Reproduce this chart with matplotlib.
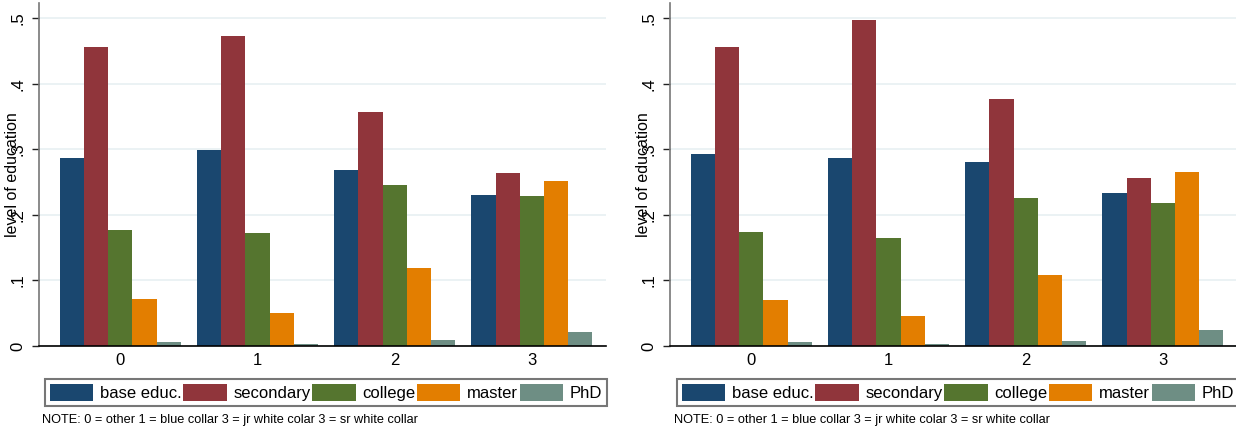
import matplotlib.pyplot as plt
import numpy as np
from matplotlib.ticker import FuncFormatter

plt.rcParams['font.family'] = ['Liberation Sans', 'DejaVu Sans']

# categories (occupation groups) and series
groups = [0, 1, 2, 3]
series = ['base educ.', 'secondary', 'college', 'master', 'PhD']
colors = ['#1a476f', '#90353b', '#55752f', '#e37e00', '#6e8e84']

# left panel
left_base = [0.287, 0.299, 0.268, 0.230]
left_secondary = [0.456, 0.473, 0.357, 0.264]
left_college = [0.177, 0.172, 0.246, 0.229]
left_master = [0.072, 0.050, 0.119, 0.252]
left_phd = [0.0056, 0.003, 0.0086, 0.022]

# right panel
right_base = [0.293, 0.287, 0.281, 0.234]
right_secondary = [0.456, 0.497, 0.376, 0.256]
right_college = [0.174, 0.165, 0.225, 0.218]
right_master = [0.070, 0.045, 0.108, 0.266]
right_phd = [0.0056, 0.003, 0.0076, 0.0244]

ytick_vals = [0, 0.1, 0.2, 0.3, 0.4, 0.5]
note = "NOTE: 0 = other 1 = blue collar 3 = jr white colar 3 = sr white collar"

W, H = 1236, 433
fig = plt.figure(figsize=(W / 100, H / 100), dpi=100)


def fmt(v, pos):
    if v == 0:
        return '0'
    return ('%.1f' % v).lstrip('0')


def panel(x0, data, leg_x, note_x):
    ax = fig.add_axes([x0 / W, 1 - 346 / H, 567 / W, 343 / H])
    x = np.arange(len(groups))
    bw = 0.1766
    for i, (vals, lab, c) in enumerate(zip(data, series, colors)):
        ax.bar(x + (i - 2) * bw, vals, width=bw, color=c, label=lab, zorder=2)

    ax.set_xlim(-0.593, 3.54)
    ax.set_ylim(0, 0.523)
    ax.set_xticks(x)
    ax.set_xticklabels([str(g) for g in groups])
    ax.set_yticks(ytick_vals)
    ax.yaxis.set_major_formatter(FuncFormatter(fmt))
    ax.tick_params(axis='x', length=0, pad=5, labelsize=12)
    ax.tick_params(axis='y', length=5, width=1, color='#222222', pad=5,
                   labelsize=12, labelrotation=90)
    for lbl in ax.get_yticklabels():
        lbl.set_va('center')

    ax.grid(axis='y', color='#e6eff1', linewidth=1.1, zorder=0)
    ax.set_axisbelow(True)
    for s in ['top', 'right']:
        ax.spines[s].set_visible(False)
    ax.spines['left'].set_color('#777777')
    ax.spines['left'].set_linewidth(1.2)
    ax.spines['bottom'].set_color('black')
    ax.spines['bottom'].set_linewidth(1.2)

    ax.set_ylabel('level of education', fontsize=11.5)
    ax.yaxis.set_label_coords(-0.033, 0.5)

    leg = fig.legend(*ax.get_legend_handles_labels(), loc='center left',
                     bbox_to_anchor=(leg_x / W, 1 - 392.5 / H), ncol=5,
                     fontsize=12, frameon=True, fancybox=False,
                     handlelength=2.6, handleheight=1.15, handletextpad=0.4,
                     columnspacing=0.1, borderpad=0.3, borderaxespad=0)
    leg.get_frame().set_edgecolor('#555555')
    leg.get_frame().set_linewidth(1.5)

    fig.text(note_x / W, 1 - 420 / H, note, fontsize=9.2, va='center', ha='left')
    return ax


panel(39, [left_base, left_secondary, left_college, left_master, left_phd], 45, 42)
panel(670, [right_base, right_secondary, right_college, right_master, right_phd], 677, 674)

fig.savefig('out.png', dpi=100)
